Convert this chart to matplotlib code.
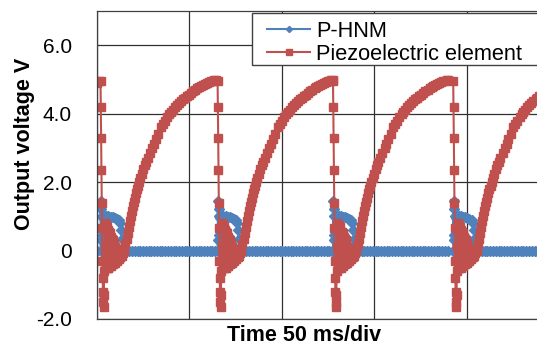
import numpy as np
import matplotlib.pyplot as plt
from matplotlib.patches import Rectangle

plt.rcParams['font.family'] = ['Liberation Sans', 'DejaVu Sans']

# falling edges of the piezo signal (ms from the left edge of the screen)
drop_times = [1.9, 65.2, 127.6, 192.6]

# samples shown before the first falling edge
lead_t = [0.0, 1.0]
lead_piezo = [4.9, 4.95]
lead_hnm = [0.0, 0.0]

# one cycle of the piezoelectric element, time after the falling edge (ms)
piezo_t = [0.0, 0.16, 0.33, 0.49, 0.65, 0.81, 0.98, 1.14, 1.3, 1.46, 1.63,
           1.8, 1.95, 2.17, 2.4, 2.7, 3.0, 3.25, 3.55, 3.8, 4.05, 4.3, 4.6,
           4.9, 5.15, 5.4, 5.7, 6.0, 6.25, 6.5, 6.8, 7.0, 7.3, 7.6, 7.85,
           8.1, 8.4, 8.7, 8.95, 9.2, 9.5, 9.8, 10.05, 10.3, 10.6, 10.8, 11.1,
           11.4, 11.9, 12.7,
           13.4, 14.1, 14.7, 15.2, 15.8, 16.3, 16.8, 17.3, 17.9, 18.4, 19.0,
           19.5, 20.2, 20.8, 21.5, 22.2, 23.0, 23.8, 24.6, 25.5, 26.7, 28.0,
           28.9, 29.8, 31.2, 32.5, 33.6, 34.7, 35.9, 37.1, 38.0, 39.0, 40.1,
           41.2, 42.3, 43.4, 44.5, 45.5, 46.6, 47.7, 48.8, 49.9, 51.2, 52.4,
           53.3, 54.2, 55.3, 56.4, 57.5, 58.5, 59.6, 60.7, 61.5, 62.3]
piezo_v = [4.95, 4.2, 3.3, 2.35, 1.4, 0.65, -0.3, -0.8, -1.2, -1.5, -1.65,
           -1.3, -0.6, 0.1, 0.8, -0.45, 0.75, -0.5, 0.7, -0.5, 0.6, -0.5, 0.55,
           -0.45, 0.5, -0.45, 0.4, -0.4, 0.35, -0.4, 0.3, -0.35, 0.2, -0.35, 0.1,
           -0.3, 0.05, -0.3, 0.0, -0.25, -0.05, -0.25, -0.1, -0.2, -0.1, -0.2, -0.1,
           -0.15, -0.08, 0.0,
           0.18, 0.35, 0.52, 0.7, 0.85, 1.0, 1.15, 1.3, 1.43, 1.55, 1.68,
           1.8, 1.9, 2.0, 2.13, 2.25, 2.38, 2.5, 2.6, 2.7, 2.85, 3.0,
           3.12, 3.25, 3.42, 3.6, 3.7, 3.8, 3.9, 4.0, 4.06, 4.12, 4.19,
           4.25, 4.31, 4.37, 4.42, 4.47, 4.52, 4.56, 4.61, 4.65, 4.7, 4.75,
           4.78, 4.8, 4.83, 4.86, 4.89, 4.92, 4.94, 4.96, 4.97, 4.97]

# one cycle of the P-HNM output, time after the falling edge (ms)
hnm_t = [0.0, 0.16, 0.33, 0.5, 0.65, 0.8, 1.1, 1.4, 1.7, 2.1, 2.6, 3.1,
         3.7, 4.3, 5.4, 6.5, 7.6, 8.7, 9.9, 10.5, 11.0, 11.5, 12.0, 12.5,
         14.0, 15.5, 17.0, 18.5, 20.0, 21.5, 23.0, 24.5, 26.0, 27.5, 29.0,
         30.5, 32.0, 33.5, 35.0, 36.5, 38.0, 39.5, 41.0, 42.5, 44.0, 45.5,
         47.0, 48.5, 50.0, 51.5, 53.0, 54.5, 56.0, 57.5, 59.0, 60.5, 62.0]
hnm_v = [0.0, 1.45, 0.3, 1.2, 0.45, 1.0, 0.35, 0.95, 0.45, 1.0, 0.5, 1.0,
         0.55, 1.0, 0.98, 0.97, 0.95, 0.93, 0.88, 0.8, 0.6, 0.35, 0.1, 0.0,
         0.0, 0.0, 0.0, 0.0, 0.0, 0.0, 0.0, 0.0, 0.0, 0.0, 0.0,
         0.0, 0.0, 0.0, 0.0, 0.0, 0.0, 0.0, 0.0, 0.0, 0.0, 0.0,
         0.0, 0.0, 0.0, 0.0, 0.0, 0.0, 0.0, 0.0, 0.0, 0.0, 0.0]

yticks = [-2, 0, 2, 4, 6]
ytick_labels = ['-2.0', '0', '2.0', '4.0', '6.0']

# put the cycles after each falling edge
t_piezo = lead_t + [d + t for d in drop_times for t in piezo_t]
v_piezo = lead_piezo + [v for d in drop_times for v in piezo_v]
t_hnm = lead_t[:1] + [d + t for d in drop_times for t in hnm_t]
v_hnm = lead_hnm[:1] + [v for d in drop_times for v in hnm_v]

fig = plt.figure(figsize=(5.37, 3.47), dpi=100)
ax = fig.add_axes([97/537, 1 - 319/347, 1 - 97/537, (319 - 11)/347])

ax.plot(t_hnm, v_hnm, color='#4F81BD', lw=1.5, marker='D', ms=4.8,
        label='P-HNM')
ax.plot(t_piezo, v_piezo, color='#C0504D', lw=1.5, marker='s', ms=5.8,
        label='Piezoelectric element')

ax.set_xlim(0, 237.9)
ax.set_ylim(-2, 7)
ax.set_xticks([0, 50, 100, 150, 200])
ax.set_xticklabels([])
ax.set_yticks(yticks)
ax.set_yticklabels(ytick_labels, fontsize=15)
ax.tick_params(length=0, pad=18)
ax.grid(True, color='#303030', lw=0.9)
ax.set_axisbelow(True)
for s in ['left', 'bottom', 'top']:
    ax.spines[s].set_color('#404040')
    ax.spines[s].set_linewidth(0.9)
ax.spines['right'].set_visible(False)

ax.set_ylabel('Output voltage V', fontsize=15.5, fontweight='bold', va='center')
ax.yaxis.set_label_coords(-0.164, 0.568)
ax.set_xlabel('Time 50 ms/div', fontsize=15.5, fontweight='bold', va='center')
ax.xaxis.set_label_coords(0.47, -0.054)

# legend box (runs off the right edge like the original)
box = Rectangle((0.352, 0.8247), 0.7, 0.168, transform=ax.transAxes,
                facecolor='white', edgecolor='#404040', lw=1.0,
                clip_on=False, zorder=5)
ax.add_patch(box)
leg = ax.legend(loc='upper left', bbox_to_anchor=(0.386, 0.968),
                borderaxespad=0, borderpad=0, fontsize=15.7, frameon=False,
                handlelength=2.0, handletextpad=0.25, labelspacing=0.1,
                markerscale=0.65)
leg.set_zorder(6)

fig.savefig('out.png', dpi=100)
